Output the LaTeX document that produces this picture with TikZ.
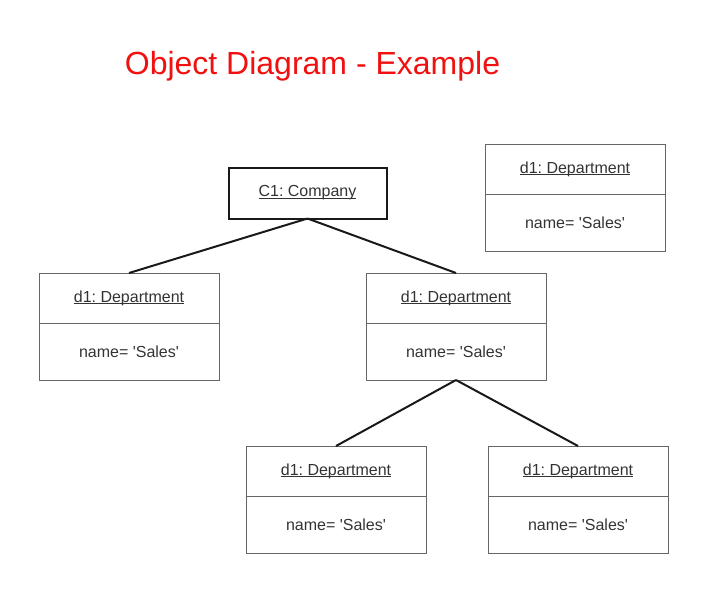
\documentclass[tikz,border=0pt]{standalone}
\usepackage{fontspec}
\setmainfont{Liberation Sans}[Ligatures=TeXOff]
\usetikzlibrary{positioning}
\definecolor{txt}{HTML}{333333}
\definecolor{frame}{HTML}{666666}
\definecolor{titlered}{HTML}{F01010}
\newcommand{\objname}[1]{\setbox0\hbox{#1}\rlap{\rule[-1.6pt]{\wd0}{0.8pt}}\box0}
\frenchspacing

\begin{document}
\begin{tikzpicture}[x=1pt, y=-1pt,
    objhead/.style = {draw=frame, line width=1pt, minimum width=180pt, minimum height=50pt,
                      inner sep=0pt, outer sep=0pt, text=txt, font=\fontsize{16}{19}\selectfont},
    objbody/.style = {objhead, minimum height=57pt},
    company/.style = {draw=black!90, line width=2pt, minimum width=158pt, minimum height=51pt,
                      inner sep=0pt, outer sep=0pt, text=txt, font=\fontsize{16}{19}\selectfont},
    link/.style = {draw=black!90, line width=2pt}]
                \useasboundingbox (0,0) rectangle (707,592);
                \node[anchor=base, text=titlered, font=\fontsize{32}{38}\selectfont] at (312.5,74) (title) {Object Diagram - Example};

                \node[company] at (307.5,193) (C) {\objname{C1: Company}};

                \node[objhead] at (575,169) (TRh) {\objname{d1: Department}};
                \node[objbody, below = 0pt of TRh] (TRb) {name= 'Sales'};

                \node[objhead] at (129,298) (Lh) {\objname{d1: Department}};
                \node[objbody, below = 0pt of Lh] (Lb) {name= 'Sales'};

                \node[objhead] at (456,298) (Mh) {\objname{d1: Department}};
                \node[objbody, below = 0pt of Mh] (Mb) {name= 'Sales'};

                \node[objhead] at (336,471) (BLh) {\objname{d1: Department}};
                \node[objbody, below = 0pt of BLh] (BLb) {name= 'Sales'};

                \node[objhead] at (578,471) (BRh) {\objname{d1: Department}};
                \node[objbody, below = 0pt of BRh] (BRb) {name= 'Sales'};

                \draw [link] (C.south) -- (Lh.north);
                \draw [link] (C.south) -- (Mh.north);
                \draw [link] (Mb.south) -- (BLh.north);
                \draw [link] (Mb.south) -- (BRh.north);
            \end{tikzpicture}
\end{document}
